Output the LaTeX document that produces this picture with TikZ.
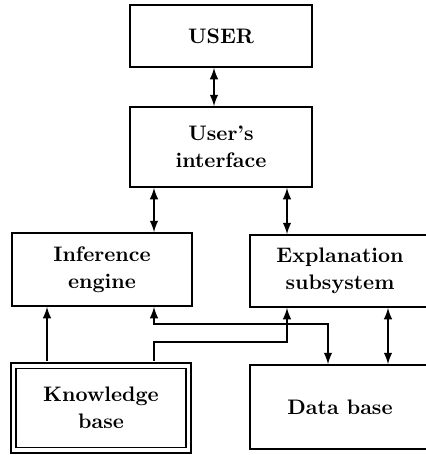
\documentclass[tikz,border=0pt]{standalone}
\usepackage{tikz}
\usetikzlibrary{arrows}

\begin{document}
\begin{tikzpicture}[x=0.5pt,y=-0.5pt,>=latex,
	box/.style = {draw, line width=0.95pt, rectangle, align=center, inner sep=0pt,
		font=\fontsize{10.5}{13.5}\bfseries\selectfont},
	link/.style = {line width=0.95pt}]
	\useasboundingbox (0,0) rectangle (426,455);
	\clip (0,0) rectangle (426,455);
	% columns and rows of the connectors
	\coordinate (cu) at (214,0);
	\coordinate (ca) at (47,0);
	\coordinate (cb) at (154,0);
	\coordinate (cc) at (287,0);
	\coordinate (cd) at (328,0);
	\coordinate (ce) at (388,0);
	\coordinate (ra) at (0,324);
	\coordinate (rb) at (0,342);
	% boxes
	\node [box, minimum width=91pt, minimum height=31pt] (user) at (221,36) {USER};
	\node [box, minimum width=91pt, minimum height=40pt] (iface) at (221,147) {User's\\interface};
	\node [box, minimum width=90pt, minimum height=36.5pt] (infer) at (102,269.5) {Inference\\engine};
	\node [box, minimum width=90pt, minimum height=36pt] (expl) at (340,271) {Explanation\\subsystem};
	\node [box, double, double distance=1.8pt, minimum width=87.5pt, minimum height=42.25pt] (kb) at (101,408) {Knowledge\\base};
	\node [box, minimum width=90pt, minimum height=42pt] (db) at (340,407) {Data base};
	% connectors
	\draw [link,<->] (user.south -| cu) -- (iface.north -| cu);
	\draw [link,<->] (iface.south -| cb) -- (infer.north -| cb);
	\draw [link,<->] (iface.south -| cc) -- (expl.north -| cc);
	\draw [link,->,shorten <=1.8pt] (kb.north -| ca) -- (infer.south -| ca);
	\draw [link,<->] (infer.south -| cb) -- (cb |- ra) -| (db.north -| cd);
	\draw [link,->,shorten <=1.8pt] (kb.north -| cb) -- (cb |- rb) -| (expl.south -| cc);
	\draw [link,<->] (expl.south -| ce) -- (db.north -| ce);
	%\draw (0,0) rectangle (426,455);
\end{tikzpicture}
\end{document}
